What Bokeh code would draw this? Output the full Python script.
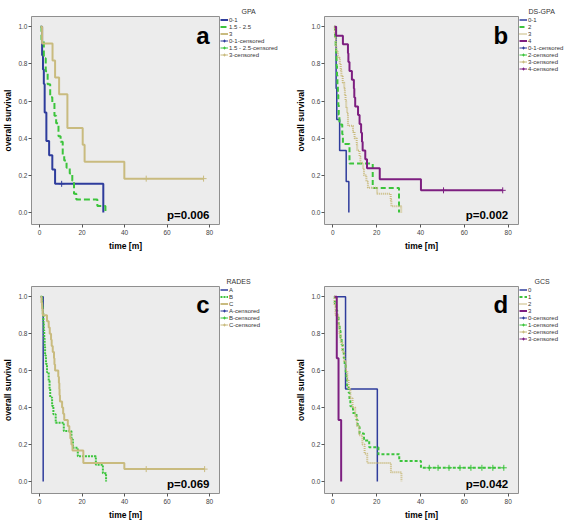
from bokeh.plotting import figure
from bokeh.models import Legend, LegendItem, Label, FixedTicker, Range1d, CustomJSTickFormatter
from bokeh.layouts import column, row
from bokeh.embed import file_html
from bokeh.resources import INLINE

# ---------------- data ----------------
X_TICKS = [0, 20, 40, 60, 80]
Y_TICKS = [0.0, 0.2, 0.4, 0.6, 0.8, 1.0]

# Panel a: GPA
A_LABELS = ["0-1", "1.5 - 2.5", "3"]
A_T_01 = [0.5, 1.2, 1.6, 2.0, 2.4, 3.2, 4.5, 6.0, 7.3, 30.0]
A_S_01 = [1.0, 0.846, 0.769, 0.692, 0.538, 0.385, 0.308, 0.231, 0.154, 0.0]
A_T_15 = [0.5, 0.9, 2.0, 2.9, 3.8, 5.0, 6.0, 7.0, 7.8, 8.9, 9.9, 10.9, 11.6, 12.7, 14.2, 15.4, 16.2, 17.3, 27.2, 31.0]
A_S_15 = [1.0, 0.93, 0.83, 0.76, 0.69, 0.62, 0.59, 0.52, 0.48, 0.41, 0.38, 0.31, 0.28, 0.24, 0.21, 0.17, 0.10, 0.07, 0.034, 0.0]
A_T_3 = [0.5, 1.2, 6.1, 7.3, 9.2, 13.1, 20.3, 21.2, 39.9, 77.2]
A_S_3 = [1.0, 0.909, 0.818, 0.727, 0.636, 0.455, 0.364, 0.273, 0.182, 0.182]
A_CT_01, A_CS_01 = [10.4], [0.154]
A_CT_15, A_CS_15 = [], []
A_CT_3, A_CS_3 = [50.2, 77.2], [0.182, 0.182]

# Panel b: DS-GPA
B_LABELS = ["0-1", "2", "3", "4"]
B_T_01 = [1.0, 1.5, 1.8, 3.1, 6.1, 7.3]
B_S_01 = [1.0, 0.667, 0.5, 0.333, 0.167, 0.0]
B_T_2 = [0.5, 1.0, 1.3, 1.5, 1.7, 1.9, 2.1, 2.3, 2.5, 2.7, 3.0, 4.3, 4.6, 7.6, 18.2, 30.2]
B_S_2 = [1.0, 0.947, 0.895, 0.842, 0.789, 0.737, 0.684, 0.632, 0.579, 0.526, 0.474, 0.421, 0.368, 0.263, 0.132, 0.0]
B_T_3 = [0.5, 0.9, 1.2, 1.4, 1.6, 2.3, 3.2, 3.6, 3.9, 4.5, 5.2, 5.5, 5.8, 6.1, 6.5, 6.9, 9.2, 9.9, 10.9,
         11.1, 12.2, 12.6, 13.8, 14.2, 15.3, 16.0, 20.2, 26.4, 26.7, 31.2]
B_S_3 = [1.0, 0.967, 0.933, 0.9, 0.867, 0.833, 0.8, 0.767, 0.733, 0.7, 0.667, 0.633, 0.6, 0.567, 0.533, 0.467,
         0.433, 0.4, 0.367, 0.333, 0.3, 0.267, 0.233, 0.2, 0.167, 0.133, 0.1, 0.067, 0.033, 0.0]
B_T_4 = [0.8, 1.5, 4.6, 6.9, 7.1, 7.6, 8.7, 9.6, 9.8, 10.2, 11.5, 12.2, 12.9, 13.3, 13.6, 14.8, 15.6, 21.4, 40.2, 77.5]
B_S_4 = [1.0, 0.952, 0.905, 0.857, 0.81, 0.762, 0.714, 0.667, 0.619, 0.571, 0.524, 0.476, 0.429, 0.381, 0.333,
         0.286, 0.238, 0.179, 0.119, 0.119]
B_CT_01, B_CS_01 = [], []
B_CT_2, B_CS_2 = [], []
B_CT_3, B_CS_3 = [], []
B_CT_4, B_CS_4 = [50.5, 77.5], [0.119, 0.119]

# Panel c: RADES
C_LABELS = ["A", "B", "C"]
C_T_A = [0.5, 1.7]
C_S_A = [1.0, 0.0]
C_T_B = [0.5, 1.2, 1.5, 1.8, 2.0, 2.2, 2.4, 2.6, 3.0, 3.5, 4.3, 4.7, 5.0, 5.9, 6.5, 7.6, 11.4, 15.0, 15.7, 18.0, 26.5, 29.8, 31.3]
C_S_B = [1.0, 0.955, 0.909, 0.864, 0.818, 0.773, 0.727, 0.682, 0.636, 0.591, 0.545, 0.5, 0.455, 0.409, 0.364,
         0.318, 0.273, 0.227, 0.182, 0.136, 0.091, 0.045, 0.0]
C_T_C = [0.5, 0.9, 1.2, 1.5, 3.5, 4.3, 4.8, 5.4, 5.7, 6.2, 6.8, 7.0, 7.3, 8.8, 9.1, 9.3, 9.4, 9.6, 10.6, 11.1,
         11.6, 13.3, 14.0, 14.5, 15.0, 15.5, 20.6, 39.9, 77.7]
C_S_C = [1.0, 0.967, 0.933, 0.9, 0.867, 0.833, 0.8, 0.767, 0.733, 0.7, 0.667, 0.633, 0.6, 0.567, 0.533, 0.5,
         0.467, 0.433, 0.4, 0.367, 0.333, 0.3, 0.267, 0.233, 0.2, 0.167, 0.1, 0.067, 0.067]
C_CT_A, C_CS_A = [], []
C_CT_B, C_CS_B = [], []
C_CT_C, C_CS_C = [50.2, 77.7], [0.067, 0.067]

# Panel d: GCS
D_LABELS = ["0", "1", "2", "3"]
D_T_0 = [0.5, 5.8, 20.3]
D_S_0 = [1.0, 0.5, 0.0]
D_T_1 = [0.5, 0.9, 1.5, 2.0, 2.6, 3.1, 3.5, 4.0, 4.5, 5.0, 5.4, 5.9, 6.2, 6.5, 7.2, 7.6, 8.0, 9.2, 10.8, 11.3,
         12.2, 14.2, 16.6, 20.8, 30.3, 40.2, 78.0]
D_S_1 = [1.0, 0.963, 0.926, 0.889, 0.852, 0.815, 0.778, 0.741, 0.704, 0.667, 0.63, 0.593, 0.556, 0.519, 0.481,
         0.444, 0.407, 0.37, 0.333, 0.296, 0.259, 0.222, 0.185, 0.148, 0.111, 0.074, 0.074]
D_T_2 = [0.5, 0.8, 1.2, 2.5, 3.0, 3.6, 4.4, 5.2, 6.0, 6.6, 7.2, 8.0, 9.0, 10.2, 11.0, 12.0, 13.5, 14.5, 15.7, 26.5, 31.3]
D_S_2 = [1.0, 0.95, 0.9, 0.85, 0.8, 0.75, 0.7, 0.65, 0.6, 0.55, 0.5, 0.45, 0.4, 0.35, 0.3, 0.25, 0.2, 0.15,
         0.1, 0.05, 0.0]
D_T_3 = [0.8, 1.8, 2.6, 3.8]
D_S_3 = [1.0, 0.667, 0.333, 0.0]
D_CT_0, D_CS_0 = [], []
D_CT_1 = [44.0, 48.0, 53.0, 58.0, 63.0, 68.0, 73.0, 78.0]
D_CS_1 = [0.074] * 8
D_CT_2, D_CS_2 = [], []
D_CT_3, D_CS_3 = [], []

# ---------------- styling ----------------
FONT = "Liberation Sans"
BLUE = "#2e3c9c"
GREEN = "#3cc43c"
TAN = "#c9bb7f"
PURPLE = "#7d1f80"
ITEM_H = 7


def make_plot(width, height, borders, groups, letter, pval):
    bl, br, bt, bb = borders
    p = figure(width=width, height=height,
               x_range=Range1d(-3.8, 84.7), y_range=Range1d(-0.065, 1.055),
               output_backend="svg", toolbar_location=None,
               min_border_left=bl, min_border_right=br,
               min_border_top=bt, min_border_bottom=bb)
    p.background_fill_color = "#ececec"
    p.border_fill_color = "white"
    p.outline_line_color = "#8f8f8f"
    p.outline_line_width = 1
    p.grid.visible = False

    for ax in (p.xaxis[0], p.yaxis[0]):
        ax.axis_line_color = None
        ax.major_tick_line_color = "#555555"
        ax.major_tick_out = 3
        ax.major_tick_in = 0
        ax.minor_tick_line_color = None
        ax.major_label_text_font = FONT
        ax.major_label_text_font_size = "6.5px"
        ax.major_label_text_color = "#444444"
        ax.major_label_standoff = 2
        ax.axis_label_text_font = FONT
        ax.axis_label_text_font_size = "8.5px"
        ax.axis_label_text_font_style = "bold"
        ax.axis_label_text_color = "black"
        ax.axis_label_standoff = 3
    p.yaxis[0].major_label_standoff = 1
    p.yaxis[0].axis_label_standoff = 2
    p.xaxis.ticker = FixedTicker(ticks=X_TICKS)
    p.yaxis.ticker = FixedTicker(ticks=Y_TICKS)
    p.yaxis.formatter = CustomJSTickFormatter(code="return tick.toFixed(1)")
    p.xaxis.axis_label = "time [m]"
    p.yaxis.axis_label = "overall survival"

    for g in groups:
        p.step(x=g["t"], y=g["s"], mode="after", line_color=g["color"],
               line_width=g["w"], line_dash=g["dash"])
        p.scatter(x=g["ct"], y=g["cs"], marker="cross", size=6,
                  line_color=g["color"], line_width=1)

    p.add_layout(Label(x=80, y=0.955, text=letter, text_align="right", text_baseline="alphabetic",
                       text_font=FONT, text_font_size="24px", text_font_style="bold",
                       text_color="black"))
    p.add_layout(Label(x=80, y=-0.015, text=pval, text_align="right", text_baseline="alphabetic",
                       text_font=FONT, text_font_size="11.5px", text_font_style="bold",
                       text_color="black"))
    return p


def make_legend_fig(width, height, title, title_left, top, groups):
    # a narrow figure that only shows the legend; its ranges lie far outside the data,
    # so the curves drawn here stay hidden and only serve as legend glyphs
    lf = figure(width=width, height=height, x_range=Range1d(1000, 1000 + width),
                y_range=Range1d(1000, 1000 + height),
                output_backend="svg", toolbar_location=None, x_axis_type=None, y_axis_type=None,
                min_border_left=0, min_border_right=0, min_border_top=top, min_border_bottom=0,
                title=title)
    lf.title.text_font = FONT
    lf.title.text_font_size = "7px"
    lf.title.text_font_style = "normal"
    lf.title.text_color = "#333333"
    lf.title.align = "left"
    lf.title.offset = title_left
    lf.title.standoff = 3
    lf.grid.visible = False
    lf.outline_line_color = None
    lf.background_fill_color = "white"
    lf.border_fill_color = "white"

    line_items, cens_items = [], []
    for g in groups:
        r = lf.step(x=g["t"], y=g["s"], mode="after", line_color=g["color"],
                    line_width=g["w"], line_dash=g["dash"])
        rl = lf.line(x=g["t"], y=g["s"], line_color=g["color"], line_width=1)
        rc = lf.scatter(x=g["t"], y=g["s"], marker="cross", size=6, line_color=g["color"], line_width=1)
        line_items.append(LegendItem(label=g["name"], renderers=[r]))
        cens_items.append(LegendItem(label=g["name"] + "-censored", renderers=[rl, rc]))
    leg = Legend(items=line_items + cens_items, location="top_left",
                 label_text_font=FONT, label_text_font_size="6px", label_text_color="#333333",
                 glyph_width=8, glyph_height=ITEM_H, label_height=ITEM_H, label_width=10,
                 spacing=0, padding=0, margin=0, label_standoff=1,
                 background_fill_alpha=0, border_line_alpha=0)
    lf.add_layout(leg)
    return lf


def grp(name, t, s, ct, cs, color, w, dash):
    return dict(name=name, t=t, s=s, ct=ct, cs=cs, color=color, w=w, dash=dash)


GA = [grp(A_LABELS[0], A_T_01, A_S_01, A_CT_01, A_CS_01, BLUE, 2, "solid"),
      grp(A_LABELS[1], A_T_15, A_S_15, A_CT_15, A_CS_15, GREEN, 2, "6 3"),
      grp(A_LABELS[2], A_T_3, A_S_3, A_CT_3, A_CS_3, TAN, 2, "solid")]
GB = [grp(B_LABELS[0], B_T_01, B_S_01, B_CT_01, B_CS_01, BLUE, 1.5, "solid"),
      grp(B_LABELS[1], B_T_2, B_S_2, B_CT_2, B_CS_2, GREEN, 2, "5 3"),
      grp(B_LABELS[2], B_T_3, B_S_3, B_CT_3, B_CS_3, TAN, 2, "1 1"),
      grp(B_LABELS[3], B_T_4, B_S_4, B_CT_4, B_CS_4, PURPLE, 2, "solid")]
GC = [grp(C_LABELS[0], C_T_A, C_S_A, C_CT_A, C_CS_A, BLUE, 1.5, "solid"),
      grp(C_LABELS[1], C_T_B, C_S_B, C_CT_B, C_CS_B, GREEN, 2, "2 1"),
      grp(C_LABELS[2], C_T_C, C_S_C, C_CT_C, C_CS_C, TAN, 2, "solid")]
GD = [grp(D_LABELS[0], D_T_0, D_S_0, D_CT_0, D_CS_0, BLUE, 1.5, "solid"),
      grp(D_LABELS[1], D_T_1, D_S_1, D_CT_1, D_CS_1, GREEN, 2, "3 2"),
      grp(D_LABELS[2], D_T_2, D_S_2, D_CT_2, D_CS_2, TAN, 2, "1 1"),
      grp(D_LABELS[3], D_T_3, D_S_3, D_CT_3, D_CS_3, PURPLE, 2, "solid")]

TOP_H, BOT_H = 262, 260
pa = make_plot(220, TOP_H, (26, 1, 2, 38), GA, "a", "p=0.006")
la = make_legend_fig(70, TOP_H, "GPA", 21, 16, GA)
pb = make_plot(229, TOP_H, (34, 1, 2, 38), GB, "b", "p=0.002")
lb = make_legend_fig(48, TOP_H, "DS-GPA", 9, 16, GB)
pc = make_plot(220, BOT_H, (26, 1, 10, 28), GC, "c", "p=0.069")
lc = make_legend_fig(70, BOT_H, "RADES", 6, 24, GC)
pd = make_plot(229, BOT_H, (34, 1, 10, 28), GD, "d", "p=0.042")
ld = make_legend_fig(48, BOT_H, "GCS", 15, 24, GD)

layout = column(row(pa, la, pb, lb), row(pc, lc, pd, ld))
open("out.html", "w").write(file_html(layout, INLINE))
